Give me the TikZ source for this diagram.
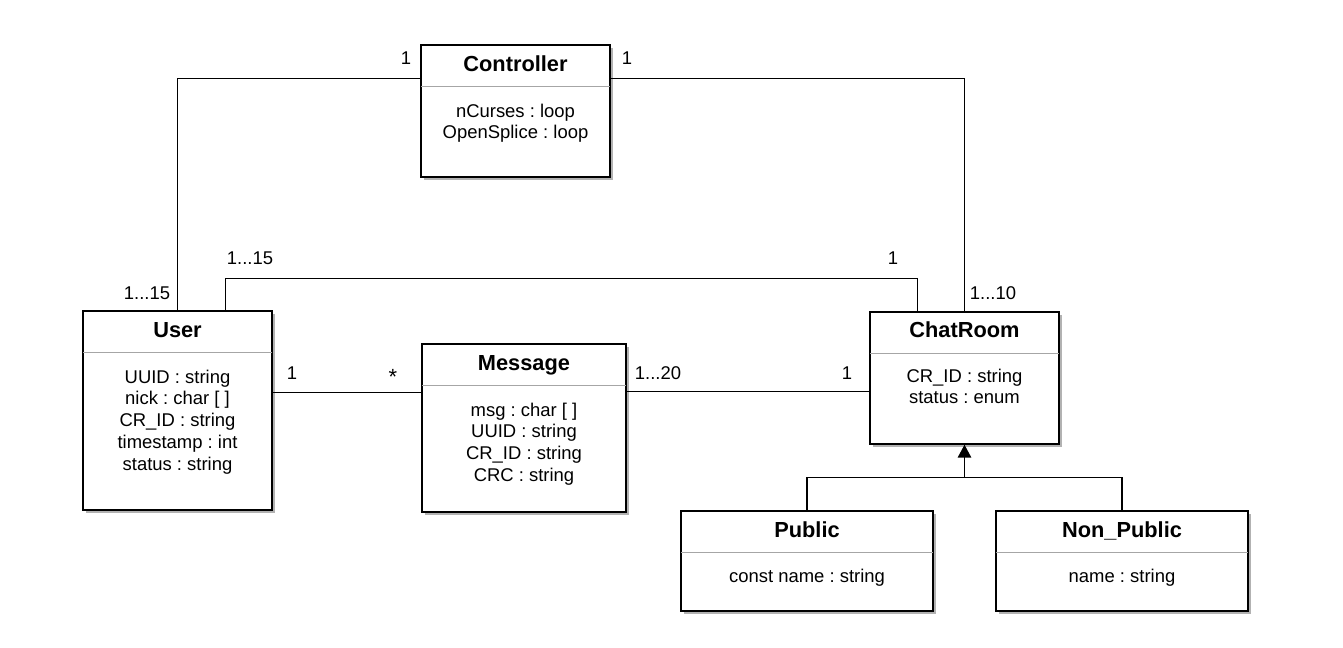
\documentclass[tikz,border=0pt]{standalone}
\usepackage{fontspec}
\setmainfont{Liberation Sans}
\usetikzlibrary{positioning,calc,shadows,arrows.meta}

\tikzset{
  classbox/.style={draw, line width=0.8pt, fill=white, inner sep=0pt,
    drop shadow={shadow xshift=0.06cm, shadow yshift=-0.06cm, fill=black!30, opacity=1}},
  classtitle/.style={anchor=base, inner sep=0pt, font=\fontsize{12.4}{14}\selectfont\bfseries},
  classattr/.style={anchor=north, inner sep=0pt, align=center, font=\fontsize{10.5}{12.5}\selectfont\frenchspacing},
  sepline/.style={draw=black!35, line width=0.8pt},
  conn/.style={line width=0.8pt},
  inherit/.style={conn, -{Triangle[width=0.27cm, length=0.26cm]}},
  mult/.style={anchor=base, inner sep=0pt, font=\fontsize{10.5}{12.5}\selectfont}
}

\begin{document}
\frenchspacing
\begin{tikzpicture}[x=0.02cm, y=-0.02cm]
  \useasboundingbox (0,0) rectangle (1343,648);

  % Classes
  \node[classbox, minimum width=3.78cm, minimum height=2.64cm] (controller) at (515.5,111) {};
  \node[classbox, minimum width=3.78cm, minimum height=3.98cm] (user) at (177.5,410.5) {};
  \node[classbox, minimum width=4.08cm, minimum height=3.36cm] (message) at (524,428) {};
  \node[classbox, minimum width=3.78cm, minimum height=2.64cm] (chatroom) at (964.5,378) {};
  \node[classbox, minimum width=5.04cm, minimum height=2.00cm] (public) at (807,561) {};
  \node[classbox, minimum width=5.04cm, minimum height=2.00cm] (nonpublic) at (1122,561) {};

  % Titles
  \node[classtitle] (controllertitle) at ($(controller.north)+(0,27)$) {Controller};
  \node[classtitle] (usertitle) at ($(user.north)+(0,27)$) {User};
  \node[classtitle] (messagetitle) at ($(message.north)+(0,27)$) {Message};
  \node[classtitle] (chatroomtitle) at ($(chatroom.north)+(0,26)$) {ChatRoom};
  \node[classtitle] (publictitle) at ($(public.north)+(0,27)$) {Public};
  \node[classtitle] (nonpublictitle) at ($(nonpublic.north)+(0,27)$) {Non\_Public};

  % Separators
  \foreach \c in {controller, user, message, chatroom, public, nonpublic}
    \draw[sepline] ($(\c.north west)+(0.7,42)$) -- ($(\c.north east)+(-0.7,42)$);

  % Attributes
  \node[classattr] (controllerattr) at ($(controller.north)+(0,59)$) {nCurses : loop\\OpenSplice : loop};
  \node[classattr] (userattr) at ($(user.north)+(0,59)$) {UUID : string\\nick : char [ ]\\CR\_ID : string\\timestamp : int\\status : string};
  \node[classattr] (messageattr) at ($(message.north)+(0,59)$) {msg : char [ ]\\UUID : string\\CR\_ID : string\\CRC : string};
  \node[classattr] (chatroomattr) at ($(chatroom.north)+(0,57)$) {CR\_ID : string\\status : enum};
  \node[classattr] (publicattr) at ($(public.north)+(0,58)$) {const name : string};
  \node[classattr] (nonpublicattr) at ($(nonpublic.north)+(0,58)$) {name : string};

  % Coordinates
  \coordinate (um) at ($(user.north east)+(0,82)$);
  \coordinate (mc) at ($(chatroom.north west)+(0,80)$);
  \coordinate (split) at ($(public.north)+(0,-33)$);

  % Connectors
  \draw[conn] ($(controller.north west)+(0,34)$) -| (user.north);
  \draw[conn] ($(controller.north east)+(0,34)$) -| (chatroom.north);
  \draw[conn] ($(user.north west)+(143,0)$) -- ++(0,-32) -| ($(chatroom.north west)+(48,0)$);
  \draw[conn] (um) -- (um -| message.west);
  \draw[conn] (mc -| message.east) -- (mc);
  \draw[conn] (public.north) -- (split) -| (nonpublic.north);
  \draw[inherit] (split -| chatroom.south) -- (chatroom.south);

  % Multiplicities
  \node[mult] (m1) at (406,65) {1};
  \node[mult] (m2) at (627,65) {1};
  \node[mult] (m3) at (147,300) {1...15};
  \node[mult] (m4) at (993,300) {1...10};
  \node[mult] (m5) at (250,265) {1...15};
  \node[mult] (m6) at (893,265) {1};
  \node[mult] (m7) at (292,380) {1};
  \node[mult, anchor=center, font=\fontsize{12.5}{14}\selectfont] (m8) at (393,377) {*};
  \node[mult] (m9) at (658,380) {1...20};
  \node[mult] (m10) at (847,380) {1};
\end{tikzpicture}
\end{document}
